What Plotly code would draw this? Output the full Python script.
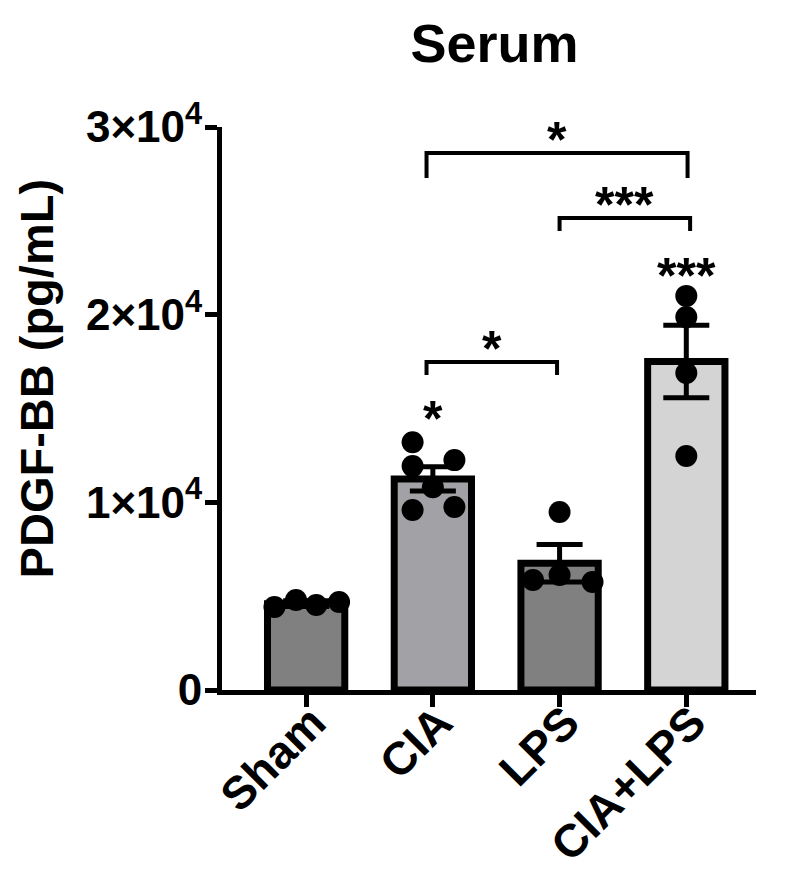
import plotly.graph_objects as go

# group summary
groups = ["Sham", "CIA", "LPS", "CIA+LPS"]
means = [4600, 11250, 6750, 17500]
sems = [150, 640, 1000, 1930]
bar_colors = ["#808080", "#A2A1A6", "#808080", "#D4D4D4"]

# individual animals
sham_pts = [4420, 4800, 4530, 4690]
cia_pts = [13200, 11930, 12250, 10800, 9590, 9750]
lps_pts = [9480, 5860, 6130, 5750]
cialps_pts = [21000, 19870, 16890, 12470]
points = [sham_pts, cia_pts, lps_pts, cialps_pts]

# horizontal scatter of the dots inside each bar
jitter = [
    [-0.25, -0.08, 0.08, 0.26],
    [-0.16, -0.16, 0.17, 0.0, -0.16, 0.17],
    [0.0, -0.21, 0.0, 0.26],
    [0.0, 0.0, 0.0, 0.0],
]

# significance brackets: (left, right, height, drop, label)
brackets = [
    (0.95, 3.01, 28615, 1330, "*"),
    (2.0, 3.03, 25150, 690, "***"),
    (0.95, 1.98, 17480, 690, "*"),
]
# stars over single bars: (x, y, label)
bar_stars = [(1, 15030, "*"), (3, 22650, "***")]

FONT = "Liberation Sans, Arial, sans-serif"

fig = go.Figure()
fig.add_trace(go.Bar(
    x=list(range(len(groups))),
    y=means,
    width=0.61,
    marker=dict(color=bar_colors, line=dict(color="black", width=7)),
    error_y=dict(type="data", array=sems, visible=True, color="black", thickness=5, width=23),
    showlegend=False,
))

xs, ys = [], []
for i, (pts, jit) in enumerate(zip(points, jitter)):
    for v, j in zip(pts, jit):
        xs.append(i + j)
        ys.append(v)
fig.add_trace(go.Scatter(
    x=xs, y=ys, mode="markers",
    marker=dict(color="black", size=22),
    showlegend=False, cliponaxis=False,
))

for x0, x1, y, drop, label in brackets:
    fig.add_shape(type="path",
                  path=f"M {x0},{y - drop} L {x0},{y} L {x1},{y} L {x1},{y - drop}",
                  line=dict(color="black", width=4))
    fig.add_annotation(x=(x0 + x1) / 2, y=y, text=f"<b>{label}</b>", showarrow=False,
                       yanchor="bottom", yshift=-17, font=dict(family=FONT, size=50, color="black"))
for x, y, label in bar_stars:
    fig.add_annotation(x=x, y=y, text=f"<b>{label}</b>", showarrow=False,
                       yanchor="middle", yshift=-11, font=dict(family=FONT, size=50, color="black"))

# y axis title as an annotation so it can sit a little above the plot centre
fig.add_annotation(x=-0.348, y=0.552, xref="paper", yref="paper", text="<b>PDGF-BB (pg/mL)</b>",
                   textangle=-90, showarrow=False, xanchor="center", yanchor="middle",
                   font=dict(size=47, family=FONT, color="black"))

fig.update_layout(
    width=791, height=883,
    margin=dict(l=214, r=43, t=119, b=201),
    plot_bgcolor="white", paper_bgcolor="white",
    font=dict(family=FONT, color="black"),
    title=dict(text="<b>Serum</b>", x=0.615, xref="container", y=0.96, yanchor="middle",
               font=dict(size=54, family=FONT, color="black")),
)
fig.update_xaxes(
    range=[-0.664, 3.55], tickvals=list(range(len(groups))),
    ticktext=[f"<b>{g}</b>" for g in groups], tickangle=-45,
    tickfont=dict(size=46, family=FONT, color="black"),
    ticklabelstandoff=-30, ticklabelshift=6,
    showline=True, linecolor="black", linewidth=5,
    ticks="outside", ticklen=12, tickwidth=5, tickcolor="black",
    showgrid=False, zeroline=False, automargin=False,
)
fig.update_yaxes(
    range=[0, 30000], tickvals=[0, 10000, 20000, 30000],
    ticktext=["<b>0</b>", "<b>1×10<sup>4</sup></b>", "<b>2×10<sup>4</sup></b>", "<b>3×10<sup>4</sup></b>"],
    tickfont=dict(size=44, family=FONT, color="black"),
    ticklabelstandoff=-6,
    showline=True, linecolor="black", linewidth=5,
    ticks="outside", ticklen=12, tickwidth=5, tickcolor="black",
    showgrid=False, zeroline=False, automargin=False,
)

fig.write_html("out.html")
